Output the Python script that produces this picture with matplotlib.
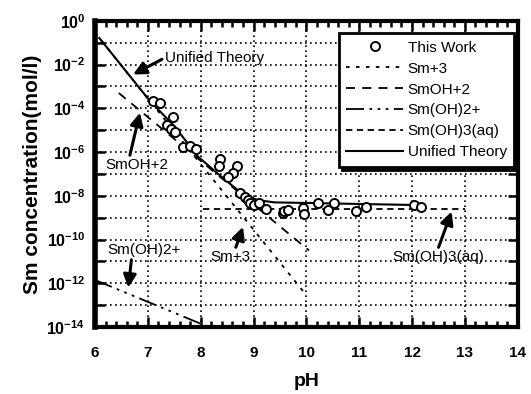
import matplotlib
matplotlib.use('Agg')
import matplotlib.pyplot as plt
from matplotlib.ticker import FixedLocator, FixedFormatter, MultipleLocator

plt.rcParams['font.family'] = ['Liberation Sans', 'DejaVu Sans']
plt.rcParams['mathtext.fontset'] = 'custom'
plt.rcParams['mathtext.rm'] = 'Liberation Sans'
plt.rcParams['mathtext.bf'] = 'Liberation Sans:bold'

# measured points (pH, log10 concentration)
work_ph = [7.09, 7.23, 7.47, 7.36, 7.43, 7.51, 7.66, 7.79, 7.92, 8.37, 8.34, 8.69,
           8.61, 8.51, 8.75, 8.83, 8.90, 8.93, 9.00, 9.11, 9.24, 9.55, 9.58, 9.65,
           9.93, 9.96, 10.22, 10.40, 10.52, 10.93, 11.12, 12.03, 12.16]
work_log = [-3.65, -3.77, -4.40, -4.76, -4.95, -5.10, -5.75, -5.72, -5.87, -6.30, -6.63, -6.63,
            -6.94, -7.12, -7.85, -8.04, -8.20, -8.31, -8.40, -8.34, -8.58, -8.77, -8.70, -8.65,
            -8.54, -8.82, -8.31, -8.65, -8.35, -8.68, -8.49, -8.42, -8.49]

# species lines
sm3_ph = [6.0, 10.0]
sm3_log = [-0.55, -12.55]
smoh_ph = [6.45, 10.05]
smoh_log = [-3.3, -10.5]
smoh2_ph = [6.0, 8.15]
smoh2_log = [-11.85, -14.0]
smoh3_ph = [8.05, 13.0]
smoh3_log = [-8.6, -8.6]
unified_ph = [6.08, 7.02, 7.51, 7.95, 8.33, 8.77, 9.08, 9.4, 10.5, 12.05]
unified_log = [-0.78, -3.61, -4.84, -6.21, -7.0, -7.88, -8.2, -8.3, -8.35, -8.42]

y_ticks = [10.0 ** -k for k in range(0, 15)]
y_labels = [r'$\mathbf{10^{%d}}$' % (-k) if k % 2 == 0 else '' for k in range(0, 15)]
y_labels[0] = r'$\mathbf{10^{0}}$'


def p(v):
    return [10.0 ** x for x in v]


fig = plt.figure(figsize=(5.31, 3.94), dpi=100)
ax = fig.add_axes([0.179, 0.170, 0.796, 0.777])

ax.plot(work_ph, p(work_log), 'o', mfc='white', mec='black', ms=6.5, mew=1.4,
        label='This Work', zorder=5)
ax.plot(sm3_ph, p(sm3_log), color='black', lw=1.3, ls=(0, (2, 3.5)), label='Sm+3')
ax.plot(smoh_ph, p(smoh_log), color='black', lw=1.3, ls=(0, (5, 4)), label='SmOH+2')
ax.plot(smoh2_ph, p(smoh2_log), color='black', lw=1.3,
        ls=(0, (10, 3, 1.5, 3, 1.5, 3, 1.5, 3)), label='Sm(OH)2+')
ax.plot(smoh3_ph, p(smoh3_log), color='black', lw=1.3, ls=(0, (3.5, 2.5)), label='Sm(OH)3(aq)')
ax.plot(unified_ph, p(unified_log), color='black', lw=1.5, label='Unified Theory')

ax.set_yscale('log')
ax.set_xlim(6, 14)
ax.set_ylim(1e-14, 1e0)
ax.yaxis.set_major_locator(FixedLocator(y_ticks))
ax.yaxis.set_major_formatter(FixedFormatter(y_labels))
ax.yaxis.set_minor_locator(FixedLocator([]))
ax.xaxis.set_major_locator(MultipleLocator(1))
ax.xaxis.set_minor_locator(MultipleLocator(0.2))

ax.grid(True, which='major', color='black', ls=(0, (1, 2)), lw=1.2)
ax.tick_params(which='both', direction='in', top=True, right=True, width=1.8)
ax.tick_params(which='major', length=7)
ax.tick_params(which='minor', length=4)
ax.tick_params(axis='x', labelsize=11, pad=14)
ax.tick_params(axis='y', labelsize=11.5, pad=7)
for lab in ax.get_xticklabels():
    lab.set_fontweight('bold')
for s in ax.spines.values():
    s.set_linewidth(3)
ax.spines['left'].set_linewidth(4)

ax.set_xlabel('pH', fontsize=14, fontweight='bold', labelpad=9)
ax.set_ylabel('Sm concentration(mol/l)', fontsize=15, fontweight='bold', labelpad=3)

arrow = dict(arrowstyle='-|>,head_length=0.7,head_width=0.35', lw=2.2, color='black',
             shrinkA=0, shrinkB=0)
ax.annotate('Unified Theory', xy=(6.72, 10 ** -2.45), xytext=(7.32, 10 ** -1.69),
            fontsize=11, ha='left', va='center',
            arrowprops=dict(arrow, relpos=(0.0, 0.5)))
ax.annotate('SmOH+2', xy=(6.85, 10 ** -4.2), xytext=(6.79, 10 ** -6.59),
            fontsize=11, ha='center', va='center',
            arrowprops=dict(arrow, relpos=(0.38, 1.0)))
ax.annotate('Sm(OH)2+', xy=(6.63, 10 ** -12.2), xytext=(6.93, 10 ** -10.48),
            fontsize=11, ha='center', va='center',
            arrowprops=dict(arrow, relpos=(0.33, 0.0)))
ax.annotate('Sm+3', xy=(8.8, 10 ** -9.42), xytext=(8.57, 10 ** -10.8),
            fontsize=11, ha='center', va='center',
            arrowprops=dict(arrow, relpos=(0.6, 1.0)))
ax.annotate('Sm(OH)3(aq)', xy=(12.75, 10 ** -8.72), xytext=(12.5, 10 ** -10.8),
            fontsize=11, ha='center', va='center',
            arrowprops=dict(arrow, relpos=(0.49, 1.0)))

leg = ax.legend(loc='upper right', bbox_to_anchor=(1.01, 0.985), fontsize=11,
                handlelength=3.7, handletextpad=0.3, labelspacing=0.45,
                borderpad=0.5, numpoints=1, fancybox=False, framealpha=1,
                edgecolor='black', shadow={'color': 'black', 'alpha': 1})
leg.get_frame().set_linewidth(2)

fig.savefig('out.png', dpi=100)
